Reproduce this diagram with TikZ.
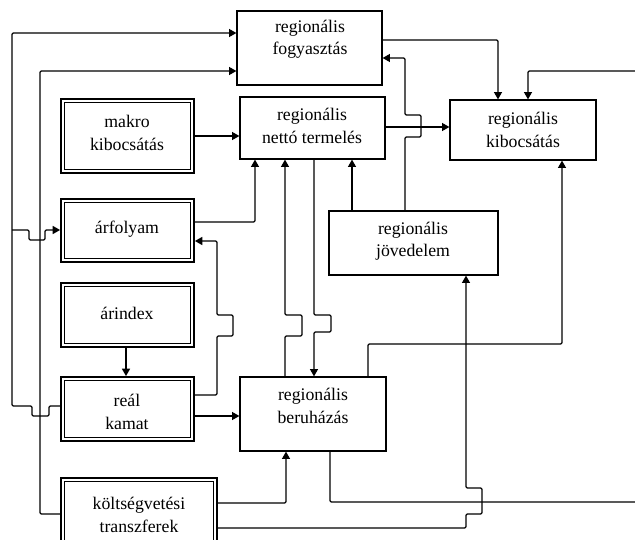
\documentclass[tikz,border=0pt]{standalone}
\usepackage{fontspec}
\setmainfont{Liberation Serif}
\usetikzlibrary{arrows.meta}
\begin{document}
\begin{tikzpicture}[x=0.75pt,y=-0.75pt,
  box/.style={draw, line width=0.9pt, rectangle, inner sep=0pt},
  dbox/.style={draw, line width=1.4pt, rectangle, inner sep=0pt},
  lbl/.style={align=center, font=\fontsize{13.3}{16.8}\selectfont, inner sep=0pt},
  conn/.style={line width=0.9pt, rounded corners=1pt},
  arr/.style={conn, -{Triangle[length=5.5pt,width=6pt]}}]
\clip (0,0) rectangle (635,539);
\fill[white] (0,0) rectangle (635,539);
% boxes
\node[box, minimum width=145*0.75pt, minimum height=74*0.75pt] (fogy) at (309.5,48) {};
\node[box, minimum width=145*0.75pt, minimum height=62*0.75pt] (netto) at (312.5,128) {};
\node[box, minimum width=146*0.75pt, minimum height=60*0.75pt] (kibocs) at (523,130) {};
\node[box, minimum width=169*0.75pt, minimum height=64*0.75pt] (jov) at (413.5,243) {};
\node[box, minimum width=146*0.75pt, minimum height=74*0.75pt] (beru) at (313,414) {};
\node[dbox, minimum width=133*0.75pt, minimum height=74*0.75pt] (makro) at (127.5,136) {};
\node[dbox, minimum width=133*0.75pt, minimum height=63*0.75pt] (arfoly) at (127.5,230.5) {};
\node[dbox, minimum width=133*0.75pt, minimum height=64*0.75pt] (arindex) at (127.5,315) {};
\node[dbox, minimum width=133*0.75pt, minimum height=64*0.75pt] (real) at (127.5,409) {};
\node[dbox, minimum width=156*0.75pt, minimum height=74*0.75pt] (kolts) at (139,515) {};
\foreach \n in {makro,arfoly,arindex,real,kolts}
  \draw[line width=0.8pt] ([shift={(4,4)}]\n.north west) rectangle ([shift={(-4,-4)}]\n.south east);
% labels
\node[lbl] (fogyt) at (310,39) {regionális\\fogyasztás};
\node[lbl] (nettot) at (312,126) {regionális\\nettó termelés};
\node[lbl] (kibocst) at (523,130) {regionális\\kibocsátás};
\node[lbl] (jovt) at (413,241) {regionális\\jövedelem};
\node[lbl] (berut) at (313,406) {regionális\\beruházás};
\node[lbl] (makrot) at (127,133) {makro\\kibocsátás};
\node[lbl] (arfolyt) at (127,229) {árfolyam};
\node[lbl] (arindext) at (127,313) {árindex};
\node[lbl] (realt) at (127,412) {reál\\kamat};
\node[lbl] (koltst) at (139,515) {költségvetési\\transzferek};
% free ends
\coordinate (br) at (12,230);
\coordinate (rin) at (635,71);
\coordinate (rout) at (635,502);
% connectors
\draw[arr] (real.west |- 0,406) -- (49,406) -- (49,416) -- (32,416) -- (32,406) -- (12,406) -- (12,33) -- (fogy.west |- 0,33);
\draw[arr] (br) -- (29,230) -- (29,240) -- (45,240) -- (45,230) -- (arfoly.west |- 0,230);
\draw[arr] (kolts.west |- 0,514) -- (40,514) -- (40,71) -- (fogy.west |- 0,71);
\draw[arr] (makro.east |- 0,136) -- (netto.west |- 0,136);
\draw[arr] (arfoly.east |- 0,222) -- (255,222) -- (netto.south -| 255,0);
\draw[arr] (real.east |- 0,395) -- (217,395) -- (217,336) -- (233,336) -- (233,315) -- (217,315) -- (217,241) -- (arfoly.east |- 0,241);
\draw[arr] (arindex.south -| 126,0) -- (real.north -| 126,0);
\draw[arr] (real.east |- 0,416) -- (beru.west |- 0,416);
\draw[arr] (kolts.east |- 0,503) -- (286,503) -- (beru.south -| 286,0);
\draw[arr] (kolts.east |- 0,528) -- (466,528) -- (466,514) -- (482,514) -- (482,488) -- (466,488) -- (jov.south -| 466,0);
\draw[arr] (beru.north -| 285,0) -- (285,336) -- (302,336) -- (302,315) -- (285,315) -- (netto.south -| 285,0);
\draw[arr] (netto.south -| 314,0) -- (314,315) -- (331,315) -- (331,332) -- (314,332) -- (beru.north -| 314,0);
\draw[arr] (jov.north -| 352,0) -- (netto.south -| 352,0);
\draw[arr] (jov.north -| 405,0) -- (405,137) -- (421,137) -- (421,115) -- (405,115) -- (405,58) -- (fogy.east |- 0,58);
\draw[arr] (netto.east |- 0,127) -- (kibocs.west |- 0,127);
\draw[arr] (fogy.east |- 0,40) -- (498,40) -- (kibocs.north -| 498,0);
\draw[arr] (rin) -- (528,71) -- (kibocs.north -| 528,0);
\draw[arr] (beru.north -| 368,0) -- (368,344) -- (562,344) -- (kibocs.south -| 562,0);
\draw[conn] (beru.south -| 330,0) -- (330,502) -- (rout);
\end{tikzpicture}
\end{document}
